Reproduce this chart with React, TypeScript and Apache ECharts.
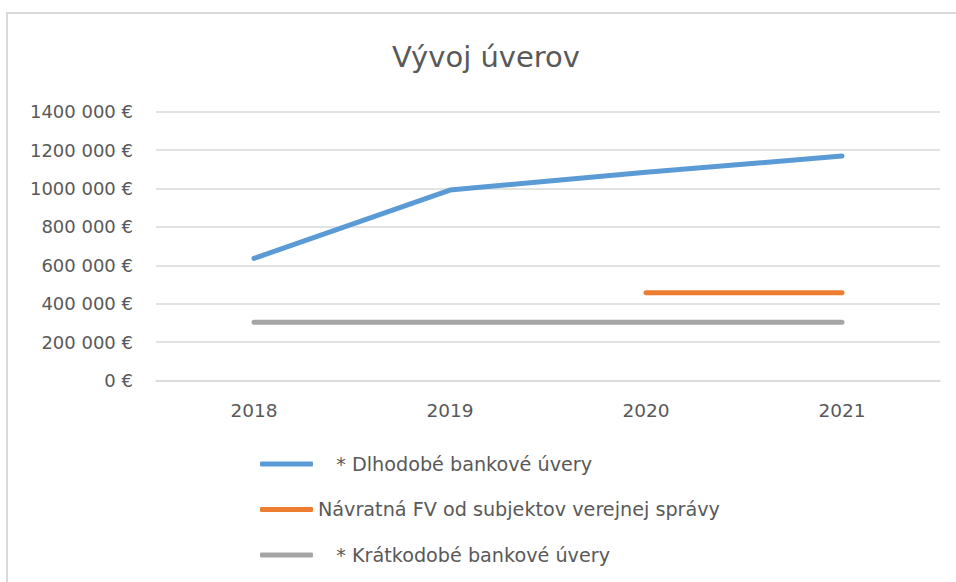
import React, { useEffect, useRef } from "react";
import * as echarts from "echarts";

const years = ["2018", "2019", "2020", "2021"];
const dlhodobe = [636000, 992000, 1085000, 1169000];
const navratna = [null, null, 457000, 457000];
const kratkodobe = [303000, 303000, 303000, 303000];
const seriesNames = [
  "   * Dlhodobé bankové úvery",
  "Návratná FV od subjektov verejnej správy",
  "   * Krátkodobé bankové úvery",
];
const titleText = "Vývoj úverov";

const FONT = "DejaVu Sans";
const TXT = "#595959";
const GRID = "#d9d9d9";

function fmt(v: number): string {
  if (v === 0) return "0 €";
  const th = Math.floor(v / 1000);
  const rest = String(v % 1000).padStart(3, "0");
  return `${th} ${rest} €`;
}

export default function App() {
  const ref = useRef<HTMLDivElement>(null);
  useEffect(() => {
    if (!ref.current) return;
    const chart = echarts.init(ref.current, undefined, { renderer: "svg" });
    chart.setOption({
      animation: false,
      backgroundColor: "#ffffff",
      textStyle: { fontFamily: FONT },
      title: {
        text: titleText,
        left: 392,
        top: 42,
        padding: 0,
        textStyle: { fontFamily: FONT, fontSize: 29, fontWeight: "normal", color: TXT },
      },
      graphic: [
        {
          type: "rect",
          shape: { x: 7, y: 13, width: 1200, height: 1200 },
          style: { fill: "none", stroke: GRID, lineWidth: 2 },
          silent: true,
          z: -10,
        },
      ],
      grid: { left: 156, right: 16, top: 111.7, bottom: 201.5, containLabel: false },
      legend: {
        orient: "vertical",
        left: 260,
        top: 454.5,
        icon: "roundRect",
        itemWidth: 53,
        itemHeight: 5,
        itemGap: 26.5,
        padding: 0,
        selectedMode: false,
        textStyle: { fontFamily: FONT, fontSize: 19.2, color: TXT },
        data: seriesNames,
      },
      xAxis: {
        type: "category",
        data: years,
        boundaryGap: true,
        axisLine: { show: true, lineStyle: { color: GRID, width: 1.5 } },
        axisTick: { show: false },
        axisLabel: { color: TXT, fontSize: 18.5, fontFamily: FONT, margin: 20 },
        splitLine: { show: false },
      },
      yAxis: {
        type: "value",
        min: 0,
        max: 1400000,
        interval: 200000,
        axisLine: { show: false },
        axisTick: { show: false },
        axisLabel: { color: TXT, fontSize: 18, fontFamily: FONT, margin: 23, formatter: (v: number) => fmt(v) },
        splitLine: { show: true, lineStyle: { color: GRID, width: 1.5 } },
      },
      series: [
        {
          name: seriesNames[0],
          type: "line",
          data: dlhodobe,
          symbol: "none",
          color: "#5b9bd5",
          lineStyle: { width: 5, cap: "round", join: "round", color: "#5b9bd5" },
        },
        {
          name: seriesNames[1],
          type: "line",
          data: navratna,
          symbol: "none",
          color: "#ed7d31",
          lineStyle: { width: 5, cap: "round", join: "round", color: "#ed7d31" },
        },
        {
          name: seriesNames[2],
          type: "line",
          data: kratkodobe,
          symbol: "none",
          color: "#a5a5a5",
          lineStyle: { width: 5, cap: "round", join: "round", color: "#a5a5a5" },
        },
      ],
    });
    return () => chart.dispose();
  }, []);
  return (
    <div
      ref={ref}
      style={{ position: "fixed", left: 0, top: 0, width: 956, height: 582, background: "#fff" }}
    />
  );
}
